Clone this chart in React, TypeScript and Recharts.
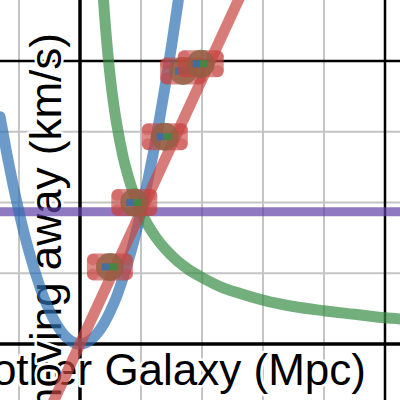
import React from 'react';
import { ComposedChart, Line, Scatter, XAxis, YAxis, ReferenceLine } from 'recharts';

const W = 400;
const H = 400;
const X_DOMAIN: [number, number] = [-1.3115, 5.2459];
const Y_DOMAIN: [number, number] = [-0.7915, 4.862];

const grayX = [-1, 1, 2, 3, 4];
const blackX = [0, 5];
const grayY = [1, 2, 3];
const blackY = [0, 4];

const xLabel = 'Distance to Another Galaxy (Mpc)';
const yLabel = 'Speed moving away (km/s)';

// blue curve
const blueU = [-1.31, -1.2, -1.1, -1.0, -0.9, -0.8, -0.7, -0.6, -0.5, -0.4, -0.3, -0.2, -0.1, 0, 0.1, 0.2, 0.3, 0.4, 0.5, 0.6, 0.7, 0.8, 0.9, 1.0, 1.1, 1.2, 1.3, 1.4, 1.5, 1.6, 1.7];
const blueV = [3.21, 2.69, 2.26, 1.87, 1.51, 1.2, 0.92, 0.67, 0.47, 0.3, 0.17, 0.075, 0.02, 0, 0.02, 0.075, 0.17, 0.3, 0.47, 0.67, 0.92, 1.2, 1.51, 1.87, 2.26, 2.69, 3.16, 3.67, 4.21, 4.79, 5.4];

// green curve
const greenU = [0.37, 0.4, 0.45, 0.5, 0.55, 0.6, 0.7, 0.8, 0.9, 1.0, 1.1, 1.25, 1.4, 1.6, 1.8, 2.0, 2.3, 2.6, 3.0, 3.5, 4.0, 4.5, 5.0, 5.3];
const greenV = [5.05, 4.68, 4.16, 3.74, 3.4, 3.12, 2.67, 2.34, 2.08, 1.87, 1.7, 1.5, 1.34, 1.17, 1.04, 0.94, 0.81, 0.72, 0.62, 0.53, 0.47, 0.42, 0.37, 0.35];

// red straight line
const redU = [-0.46, 2.65];
const redV = [-0.86, 4.96];

// purple horizontal line
const purpleU = [-1.4, 5.4];
const purpleV = [1.87, 1.87];

// measured points
const pointU = [0.49, 0.89, 1.39, 1.69, 1.98];
const pointV = [1.09, 2.0, 2.93, 3.86, 3.96];

const toRows = (us: number[], vs: number[]) => us.map((x, i) => ({ x, y: vs[i] }));
const blueData = toRows(blueU, blueV);
const greenData = toRows(greenU, greenV);
const redData = toRows(redU, redV);
const purpleData = toRows(purpleU, purpleV);
const pointData = toRows(pointU, pointV);

const BLUE = '#2d70b3';
const GREEN = '#388c46';
const RED = '#c74440';
const PURPLE = '#6042a6';

const PointShape = (props: any) => {
  const { cx, cy } = props;
  if (cx == null || cy == null) return null;
  const w = 46;
  const h = 27;
  return (
    <g>
      <circle cx={cx} cy={cy} r={14} fill={GREEN} fillOpacity={0.8} />
      <rect x={cx - w / 2} y={cy - h / 2} width={w} height={h} rx={7} fill={RED} fillOpacity={0.62} />
      {[[-1, -1], [1, -1], [-1, 1], [1, 1]].map(([sx, sy], i) => (
        <circle key={i} cx={cx + sx * (w / 2 - 6)} cy={cy + sy * (h / 2 - 6)} r={6} fill={RED} fillOpacity={0.4} />
      ))}
      <rect x={cx - 8} y={cy - 3.5} width={7} height={7} fill={BLUE} fillOpacity={0.8} />
      <rect x={cx - 1} y={cy - 3.5} width={8} height={7} fill={GREEN} fillOpacity={0.85} />
    </g>
  );
};

const layer: React.CSSProperties = { position: 'absolute', left: 0, top: 0, width: W, height: H };

export default function App() {
  const margin = { top: 0, right: 0, bottom: 0, left: 0 };
  const textStyle: React.CSSProperties = {
    fontFamily: '"Liberation Sans", Arial, sans-serif',
    fontSize: 44,
    fill: '#000',
    stroke: '#fff',
    strokeWidth: 5,
    paintOrder: 'stroke',
    strokeLinejoin: 'round',
  };
  return (
    <div style={{ ...layer, background: '#fff', overflow: 'hidden' }}>
      <div style={layer}>
        <ComposedChart width={W} height={H} margin={margin} data={pointData}>
          <XAxis type="number" dataKey="x" domain={X_DOMAIN} allowDataOverflow hide />
          <YAxis type="number" dataKey="y" domain={Y_DOMAIN} allowDataOverflow hide />
          {grayX.map((v) => (
            <ReferenceLine key={'gx' + v} x={v} stroke="#c4c4c4" strokeWidth={2} />
          ))}
          {grayY.map((v) => (
            <ReferenceLine key={'gy' + v} y={v} stroke="#c4c4c4" strokeWidth={2} />
          ))}
          {blackX.map((v) => (
            <ReferenceLine key={'bx' + v} x={v} stroke="#000" strokeWidth={v === 0 ? 3.5 : 2.5} />
          ))}
          {blackY.map((v) => (
            <ReferenceLine key={'by' + v} y={v} stroke="#000" strokeWidth={v === 0 ? 3.5 : 2.5} />
          ))}
        </ComposedChart>
      </div>
      <svg style={layer} width={W} height={H}>
        <text x={366} y={385} textAnchor="end" style={textStyle}>{xLabel}</text>
        <text x={61} y={33} textAnchor="end" transform="rotate(-90 61 33)" style={textStyle}>{yLabel}</text>
      </svg>
      <div style={layer}>
        <ComposedChart width={W} height={H} margin={margin} data={pointData}>
          <XAxis type="number" dataKey="x" domain={X_DOMAIN} allowDataOverflow hide />
          <YAxis type="number" dataKey="y" domain={Y_DOMAIN} allowDataOverflow hide />
          <Line data={purpleData} dataKey="y" type="linear" stroke={PURPLE} strokeOpacity={0.7} strokeWidth={9} dot={false} activeDot={false} isAnimationActive={false} />
          <Line data={blueData} dataKey="y" type="monotone" stroke={BLUE} strokeOpacity={0.7} strokeWidth={11} strokeLinecap="round" dot={false} activeDot={false} isAnimationActive={false} />
          <Line data={greenData} dataKey="y" type="monotone" stroke={GREEN} strokeOpacity={0.7} strokeWidth={11} dot={false} activeDot={false} isAnimationActive={false} />
          <Line data={redData} dataKey="y" type="linear" stroke={RED} strokeOpacity={0.7} strokeWidth={11} dot={false} activeDot={false} isAnimationActive={false} />
          <Scatter data={pointData} dataKey="y" shape={PointShape} isAnimationActive={false} />
        </ComposedChart>
      </div>
    </div>
  );
}
